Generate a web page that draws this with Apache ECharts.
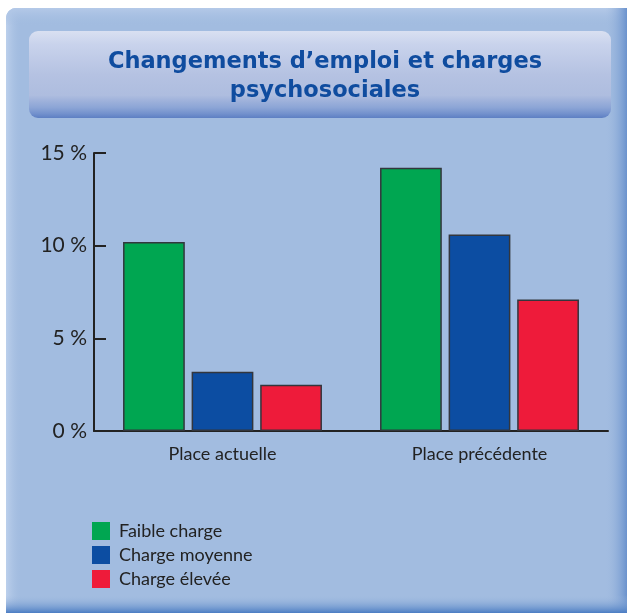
<!DOCTYPE html>
<html>
<head>
<meta charset="utf-8">
<script src="https://cdn.jsdelivr.net/npm/echarts@6/dist/echarts.min.js"></script>
<style>
  html, body { margin: 0; padding: 0; background: #fff; }
  #main { width: 627px; height: 613px; }
</style>
</head>
<body>
<div id="main"></div>
<script>
var categories = ["Place actuelle", "Place précédente"];
var seriesNames = ["Faible charge", "Charge moyenne", "Charge élevée"];
var faible = [10.2, 14.2];
var moyenne = [3.2, 10.6];
var elevee = [2.5, 7.1];
var yTicks = [0, 5, 10, 15];

var colors = ["#00a651", "#0c4da2", "#ee1b3a"];
var fontFam = "Lato, 'Noto Sans', sans-serif";

function bar(name, data, color) {
  return {
    name: name,
    type: "bar",
    data: data,
    barGap: "11%",
    barCategoryGap: "22.6%",
    itemStyle: {
      color: color,
      borderColor: "#33363d",
      borderWidth: 1.5,
    },
  };
}

var myChart = echarts.init(document.getElementById("main"));

var option = {
  animation: false,
  textStyle: { fontFamily: fontFam },
  graphic: [
    // panel
    {
      type: "rect",
      z: -10,
      shape: { x: 6, y: 8, width: 640, height: 640, r: 10 },
      style: { fill: "#a2bce0" },
    },
    {
      type: "rect",
      z: -9,
      shape: { x: 6, y: 8, width: 16, height: 640, r: [10, 0, 0, 0] },
      style: {
        fill: new echarts.graphic.LinearGradient(0, 0, 1, 0, [
          { offset: 0, color: "#bcd0ec" },
          { offset: 1, color: "rgba(162,188,224,0)" },
        ]),
      },
    },
    {
      type: "rect",
      z: -9,
      shape: { x: 6, y: 8, width: 640, height: 18, r: [10, 0, 0, 0] },
      style: {
        fill: new echarts.graphic.LinearGradient(0, 0, 0, 1, [
          { offset: 0, color: "#b4c9e8" },
          { offset: 1, color: "rgba(162,188,224,0)" },
        ]),
      },
    },
    {
      type: "rect",
      z: -8,
      shape: { x: 605, y: 8, width: 22, height: 605 },
      style: {
        fill: new echarts.graphic.LinearGradient(0, 0, 1, 0, [
          { offset: 0, color: "rgba(162,188,224,0)" },
          { offset: 1, color: "#6a92cd" },
        ]),
      },
    },
    {
      type: "rect",
      z: -8,
      shape: { x: 6, y: 595, width: 621, height: 18 },
      style: {
        fill: new echarts.graphic.LinearGradient(0, 0, 0, 1, [
          { offset: 0, color: "rgba(162,188,224,0)" },
          { offset: 1, color: "#4b7dc3" },
        ]),
      },
    },
    // title box
    {
      type: "rect",
      z: -7,
      shape: { x: 29, y: 31, width: 582, height: 87, r: 9 },
      style: {
        fill: new echarts.graphic.LinearGradient(0, 0, 0, 1, [
          { offset: 0, color: "#d9e0f1" },
          { offset: 0.15, color: "#c9d3ec" },
          { offset: 0.5, color: "#b5c2e2" },
          { offset: 0.74, color: "#aebddf" },
          { offset: 0.8, color: "#9fb2db" },
          { offset: 0.88, color: "#8ca5d6" },
          { offset: 0.95, color: "#7391cd" },
          { offset: 1, color: "#5d7fc3" },
        ]),
      },
    },
  ],
  title: {
    text: "Changements d\u2019emploi et charges\npsychosociales",
    left: 320,
    top: 43,
    textAlign: "center",
    textStyle: {
      color: "#0f4c9f",
      fontSize: 22.5,
      fontWeight: "bold",
      lineHeight: 29,
      fontFamily: "'DejaVu Sans', sans-serif",
    },
  },
  legend: {
    orient: "vertical",
    left: 92,
    top: 522,
    padding: 0,
    itemWidth: 18,
    itemHeight: 18,
    itemGap: 6,
    icon: "rect",
    data: seriesNames,
    itemStyle: { borderWidth: 0 },
    textStyle: { fontSize: 18, color: "#222", fontFamily: fontFam, padding: [3, 0, 0, 4] },
  },
  grid: { left: 94, right: 19, top: 153, bottom: 182 },
  xAxis: {
    type: "category",
    data: categories,
    axisLine: { lineStyle: { color: "#222", width: 2 } },
    axisTick: { inside: true, length: 7, lineStyle: { color: "#222", width: 2 } },
    axisLabel: { color: "#222", fontSize: 18, margin: 14, fontFamily: fontFam },
  },
  yAxis: {
    type: "value",
    min: yTicks[0],
    max: yTicks[yTicks.length - 1],
    interval: 5,
    axisLine: { show: true, lineStyle: { color: "#222", width: 2 } },
    axisTick: { show: true, inside: true, length: 12, lineStyle: { color: "#222", width: 2 } },
    splitLine: { show: false },
    axisLabel: {
      color: "#222",
      fontSize: 21,
      margin: 7,
      fontFamily: fontFam,
      formatter: "{value} %",
    },
  },
  series: [
    bar(seriesNames[0], faible, colors[0]),
    bar(seriesNames[1], moyenne, colors[1]),
    bar(seriesNames[2], elevee, colors[2]),
  ],
};

myChart.setOption(option);
</script>
</body>
</html>
